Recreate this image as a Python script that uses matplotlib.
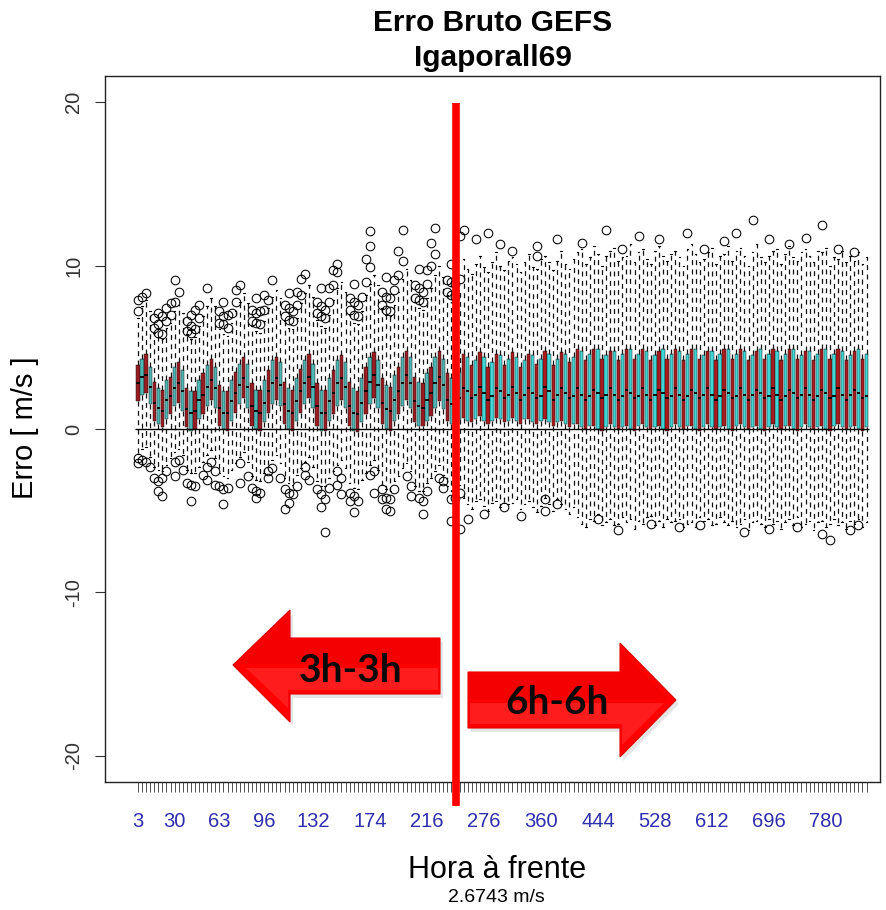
import matplotlib
matplotlib.use("Agg")
import matplotlib.pyplot as plt
from matplotlib.patches import Polygon
from matplotlib.lines import Line2D

# ---------------- data ----------------
hours = list(range(3, 241, 3)) + list(range(246, 841, 6))

medians = [
    2.8, 3.2, 3.3, 2.6, 1.6, 1.3, 1.1, 1.8,
    2.0, 2.5, 2.8, 2.3, 1.2, 1.0, 1.1, 1.8,
    2.1, 2.6, 3.0, 2.5, 1.3, 1.0, 1.0, 1.7,
    2.2, 2.7, 3.1, 2.6, 1.4, 1.1, 1.0, 1.6,
    2.3, 2.8, 3.1, 2.7, 1.5, 1.1, 1.0, 1.7,
    2.3, 2.8, 3.2, 2.6, 1.4, 1.0, 1.0, 1.7,
    2.2, 2.8, 3.1, 2.6, 1.4, 1.0, 0.9, 1.6,
    2.3, 2.9, 3.3, 2.7, 1.6, 1.2, 1.1, 1.8,
    2.3, 2.8, 3.3, 2.8, 1.7, 1.4, 1.3, 1.8,
    2.2, 2.8, 3.2, 2.7, 1.8, 1.5, 1.4, 1.9,
    2.5, 2.3, 1.9, 2.1, 2.6, 2.2, 1.8, 2.0, 2.5, 2.3, 1.9, 2.1,
    2.6, 2.2, 1.8, 2.1, 2.5, 2.2, 1.9, 2.0, 2.6, 2.3, 1.8, 2.1,
    2.5, 2.2, 1.9, 2.0, 2.5, 2.1, 1.8, 2.0, 2.4, 2.2, 1.9, 2.1,
    2.5, 2.1, 1.8, 2.0, 2.4, 2.2, 1.9, 2.0, 2.5, 2.1, 1.8, 2.1,
    2.4, 2.2, 1.9, 2.0, 2.5, 2.1, 1.8, 2.0, 2.4, 2.2, 1.9, 2.1,
    2.5, 2.1, 1.8, 2.0, 2.4, 2.2, 1.9, 2.0, 2.5, 2.1, 1.8, 2.1,
    2.4, 2.2, 1.9, 2.0, 2.5, 2.1, 1.8, 2.0, 2.4, 2.2, 1.9, 2.1,
    2.5, 2.1, 1.8, 2.0, 2.4, 2.2, 1.9, 2.0, 2.5, 2.1, 1.8, 2.1,
    2.4, 2.2, 1.9, 2.0,
]

q3 = [
    3.9, 4.3, 4.6, 3.8, 2.9, 2.5, 2.4, 3.0,
    3.2, 3.8, 4.1, 3.6, 2.5, 2.3, 2.3, 3.0,
    3.4, 3.9, 4.3, 3.8, 2.7, 2.3, 2.3, 3.0,
    3.5, 4.0, 4.4, 4.0, 2.8, 2.4, 2.4, 3.0,
    3.6, 4.2, 4.4, 4.1, 2.9, 2.5, 2.4, 3.1,
    3.7, 4.2, 4.6, 4.0, 2.8, 2.4, 2.4, 3.1,
    3.6, 4.2, 4.5, 4.1, 2.9, 2.5, 2.3, 3.1,
    3.8, 4.4, 4.7, 4.2, 3.1, 2.7, 2.6, 3.3,
    3.8, 4.4, 4.8, 4.4, 3.2, 2.9, 2.8, 3.4,
    3.8, 4.4, 4.8, 4.3, 3.4, 3.1, 3.0, 3.5,
    4.6, 4.4, 3.9, 4.2, 4.7, 4.4, 3.8, 4.1, 4.6, 4.5, 3.9, 4.3,
    4.7, 4.4, 3.8, 4.2, 4.6, 4.5, 4.0, 4.3, 4.8, 4.6, 3.9, 4.3,
    4.7, 4.6, 4.1, 4.4,
    4.9, 4.8, 4.2, 4.6, 4.9, 4.9, 4.3, 4.5, 4.8, 4.8, 4.2, 4.6,
    4.9, 4.9, 4.3, 4.6, 4.9, 4.8, 4.2, 4.5, 4.8, 4.9, 4.3, 4.6,
    4.9, 4.8, 4.2, 4.6, 4.9, 4.9, 4.3, 4.5, 4.8, 4.8, 4.2, 4.6,
    4.9, 4.9, 4.3, 4.6, 4.9, 4.8, 4.2, 4.5, 4.8, 4.9, 4.3, 4.6,
    4.9, 4.8, 4.2, 4.6, 4.9, 4.9, 4.3, 4.5, 4.8, 4.8, 4.2, 4.6,
    4.9, 4.9, 4.3, 4.6, 4.9, 4.8, 4.2, 4.5, 4.8, 4.9, 4.3, 4.6,
]

q1 = [
    1.7, 2.1, 2.2, 1.5, 0.5, 0.3, 0.1, 0.6,
    0.9, 1.4, 1.6, 1.1, 0.1, -0.1, 0.0, 0.6,
    0.9, 1.4, 1.8, 1.3, 0.2, 0.0, -0.1, 0.5,
    1.0, 1.5, 1.9, 1.3, 0.2, 0.0, -0.1, 0.4,
    1.0, 1.5, 1.8, 1.4, 0.3, 0.0, -0.1, 0.5,
    1.0, 1.5, 1.9, 1.3, 0.2, -0.1, -0.1, 0.5,
    0.9, 1.4, 1.8, 1.3, 0.2, -0.1, -0.2, 0.4,
    0.9, 1.5, 1.9, 1.3, 0.3, 0.0, -0.1, 0.5,
    0.9, 1.4, 1.8, 1.3, 0.4, 0.2, 0.2, 0.5,
    0.8, 1.3, 1.7, 1.2, 0.5, 0.3, 0.3, 0.6,
    0.7, 0.5, 0.4, 0.6, 0.8, 0.5, 0.3, 0.5, 0.7, 0.6, 0.4, 0.5,
    0.7, 0.5, 0.3, 0.6, 0.6, 0.4, 0.3, 0.5, 0.6, 0.4, 0.2, 0.4,
    0.5, 0.3, 0.1, 0.3,
    0.3, 0.1, 0.0, 0.2, 0.2, 0.0, -0.1, 0.1, 0.3, 0.1, 0.0, 0.1,
    0.2, 0.0, -0.1, 0.2, 0.3, 0.1, 0.0, 0.1, 0.2, 0.0, -0.1, 0.1,
    0.3, 0.1, 0.0, 0.2, 0.2, 0.0, -0.1, 0.1, 0.3, 0.1, 0.0, 0.1,
    0.2, 0.0, -0.1, 0.2, 0.3, 0.1, 0.0, 0.1, 0.2, 0.0, -0.1, 0.1,
    0.3, 0.1, 0.0, 0.2, 0.2, 0.0, -0.1, 0.1, 0.3, 0.1, 0.0, 0.1,
    0.2, 0.0, -0.1, 0.2, 0.3, 0.1, 0.0, 0.1, 0.2, 0.0, -0.1, 0.1,
]

whisker_high = [
    6.8, 7.5, 7.9, 7.2, 5.9, 5.6, 5.5, 6.2,
    6.5, 7.2, 7.6, 7.1, 5.8, 5.5, 5.6, 6.3,
    6.9, 7.5, 8.0, 7.5, 6.1, 5.8, 5.7, 6.5,
    7.2, 7.8, 8.3, 7.7, 6.3, 6.0, 5.9, 6.6,
    7.4, 8.1, 8.5, 8.0, 6.6, 6.2, 6.1, 6.8,
    7.7, 8.3, 8.8, 8.1, 6.7, 6.3, 6.2, 7.0,
    7.9, 8.6, 9.0, 8.4, 7.0, 6.5, 6.4, 7.2,
    8.2, 8.9, 9.4, 8.8, 7.4, 7.0, 6.9, 7.6,
    8.4, 9.2, 9.8, 9.1, 7.8, 7.4, 7.3, 8.0,
    8.6, 9.4, 10.0, 9.3, 8.2, 7.8, 7.7, 8.3,
    10.4, 9.8, 9.5, 10.1, 10.6, 9.9, 9.6, 10.2, 10.8, 10.0, 9.7, 10.3,
    10.5, 10.1, 9.6, 10.2, 10.7, 9.9, 9.8, 10.4, 10.6, 10.2, 9.7, 10.3,
    10.9, 10.1, 9.8, 10.4,
    10.8, 11.0, 10.1, 10.5, 11.2, 10.7, 10.0, 10.6, 10.9, 11.1, 10.3, 10.5,
    10.6, 11.3, 10.2, 10.8, 11.0, 10.4, 10.1, 10.9, 11.2, 10.6, 10.3, 10.7,
    10.9, 10.5, 10.0, 11.0, 11.3, 10.7, 10.2, 10.4, 10.8, 11.1, 10.1, 10.6,
    10.7, 11.2, 10.3, 10.9, 11.1, 10.6, 10.0, 10.8, 11.3, 10.5, 10.2, 10.6,
    10.9, 11.0, 10.1, 10.7, 11.2, 10.5, 10.3, 10.8, 11.0, 10.6, 10.2, 10.9,
    10.8, 11.1, 10.0, 10.5, 10.4, 10.9, 10.2, 10.6, 10.3, 10.8, 10.1, 10.5,
]

whisker_low = [
    -1.5, -1.2, -1.1, -1.7, -2.3, -2.5, -2.6, -2.2,
    -1.8, -1.4, -1.2, -1.6, -2.5, -2.7, -2.7, -2.3,
    -2.0, -1.6, -1.3, -1.8, -2.7, -2.9, -3.0, -2.5,
    -2.1, -1.7, -1.4, -2.0, -2.9, -3.1, -3.2, -2.7,
    -2.3, -1.9, -1.6, -2.1, -3.0, -3.3, -3.4, -2.8,
    -2.4, -2.0, -1.7, -2.3, -3.2, -3.5, -3.5, -3.0,
    -2.6, -2.2, -1.9, -2.4, -3.3, -3.6, -3.7, -3.1,
    -2.7, -2.2, -1.9, -2.5, -3.4, -3.7, -3.8, -3.2,
    -2.9, -2.4, -2.1, -2.6, -3.5, -3.8, -3.8, -3.3,
    -3.0, -2.6, -2.2, -2.8, -3.5, -3.8, -3.8, -3.4,
    -4.2, -4.6, -4.9, -4.4, -4.3, -4.7, -5.0, -4.5, -4.4, -4.8, -4.5, -4.6,
    -4.5, -4.3, -4.9, -4.6, -4.4, -4.8, -5.1, -4.7, -4.2, -4.6, -5.0, -4.3,
    -4.6, -4.9, -5.2, -4.8,
    -5.4, -5.8, -6.0, -5.5, -5.6, -5.2, -5.9, -5.7, -5.5, -5.9, -5.8, -5.4,
    -5.7, -5.5, -6.1, -5.6, -5.8, -5.4, -5.3, -5.9, -5.6, -6.0, -5.5, -5.7,
    -5.6, -5.5, -6.0, -5.8, -5.7, -6.0, -5.4, -5.6, -5.5, -5.9, -5.8, -5.4,
    -5.7, -5.9, -5.6, -6.0, -5.8, -5.5, -6.2, -5.7, -5.6, -5.8, -6.0, -5.5,
    -5.8, -5.6, -6.1, -5.7, -5.5, -5.9, -5.4, -6.0, -5.8, -5.6, -6.2, -5.7,
    -5.6, -6.0, -5.8, -5.5, -5.9, -5.7, -6.1, -5.6, -5.8, -5.5, -6.0, -5.7,
]

outlier_hours = [
    3, 3, 6, 9, 15, 15, 18, 18, 18, 21, 21, 24, 24, 27, 27, 30, 30, 33,
    39, 39, 42, 42, 42, 45, 45, 48, 48, 54, 63, 63, 66, 66, 66, 69, 69, 72,
    75, 75, 78, 87, 87, 90, 90, 90, 93, 93, 96, 96, 99, 102, 111, 111,
    114, 114, 114, 117, 117, 120, 120, 123, 123, 126, 135, 135, 138, 138,
    138, 141, 141, 144, 144, 147, 147, 150, 150, 159, 159, 162, 162, 162,
    165, 165, 168, 171, 171, 174, 174, 174, 183, 183, 186, 186, 186, 189,
    189, 192, 192, 195, 195, 198, 198, 207, 207, 210, 210, 210, 213, 213,
    216, 216, 219, 219, 222, 222, 231, 231, 234, 234, 234, 237, 237, 240, 240,
    3, 3, 6, 9, 12, 15, 18, 18, 21, 21, 24, 30, 30, 33, 36, 39, 42, 42, 45,
    51, 54, 54, 57, 60, 60, 63, 66, 66, 69, 78, 78, 84, 87, 90, 90, 93, 99,
    99, 102, 108, 111, 111, 114, 114, 117, 120, 126, 126, 129, 135, 138, 138,
    141, 141, 144, 150, 150, 153, 153, 159, 159, 162, 162, 165, 174, 177, 177,
    183, 183, 186, 186, 189, 189, 192, 201, 204, 204, 210, 213, 213, 216, 225,
    228, 228, 234, 234, 237, 240, 240,
    246, 264, 282, 300, 318, 354, 354, 384, 420, 456, 480, 504, 534, 576,
    600, 630, 648, 672, 696, 726, 750, 774, 798, 822,
    252, 276, 306, 330, 366, 366, 384, 444, 474, 522, 564, 594, 660, 696,
    738, 774, 786, 816, 828,
]

outlier_values = [
    7.2, 7.9, 8.1, 8.3, 6.2, 6.8, 5.9, 6.4, 7.1, 5.8, 6.9, 6.6, 7.4, 7.0, 7.7, 7.8, 9.1, 8.4,
    6.0, 6.6, 5.9, 6.3, 7.0, 6.1, 7.3, 6.8, 7.6, 8.6, 6.5, 7.2, 6.4, 6.9, 7.8, 6.2, 7.0, 7.1,
    7.8, 8.5, 8.8, 6.6, 7.3, 6.5, 7.1, 8.0, 6.4, 7.2, 7.3, 8.2, 7.9, 9.1, 6.9, 7.6,
    6.7, 7.4, 8.3, 6.6, 7.2, 7.6, 8.4, 8.2, 9.2, 9.5, 7.1, 7.8, 6.9, 7.5,
    8.6, 6.8, 7.3, 7.8, 8.6, 8.8, 9.7, 9.6, 10.1, 7.3, 8.0, 7.0, 7.8, 8.9,
    6.9, 7.6, 8.1, 9.0, 10.4, 9.9, 11.2, 12.1, 7.6, 8.4, 7.3, 8.1, 9.3, 7.2,
    8.0, 8.5, 9.1, 9.4, 10.9, 10.3, 12.2, 8.0, 8.8, 7.9, 8.6, 9.8, 7.8, 8.4,
    8.9, 9.7, 10.0, 11.4, 10.7, 12.3, 8.4, 9.1, 8.2, 9.0, 10.1, 8.1, 8.9, 9.2, 11.8,
    -1.8, -2.1, -1.9, -2.0, -2.3, -3.0, -3.2, -3.8, -3.0, -4.1, -2.6, -2.0, -2.9, -1.9, -2.5, -3.3, -3.4, -4.4, -3.5,
    -2.8, -2.3, -3.1, -2.0, -2.6, -3.4, -3.5, -3.7, -4.6, -3.6, -2.1, -3.3, -2.9, -3.6, -3.8, -4.2, -3.9, -2.6,
    -3.0, -2.4, -3.0, -3.7, -4.9, -3.9, -4.5, -4.0, -3.5, -2.3, -2.8, -3.1, -3.7, -4.0, -4.8,
    -4.3, -6.3, -3.6, -2.6, -3.4, -3.0, -4.0, -3.9, -4.4, -4.1, -5.1, -4.4, -2.8, -2.6, -3.9,
    -3.7, -4.3, -4.2, -4.9, -4.3, -5.0, -3.7, -2.9, -3.5, -4.1, -4.2, -4.4, -5.2, -3.8, -3.0,
    -3.2, -3.6, -4.3, -5.6, -4.2, -3.9, -6.1,
    12.2, 11.6, 12.0, 11.3, 10.9, 10.6, 11.2, 11.6, 11.4, 12.2, 11.0, 11.8, 11.6, 12.0,
    11.0, 11.5, 12.0, 12.8, 11.6, 11.3, 11.7, 12.5, 11.0, 10.8,
    -5.5, -5.2, -4.8, -5.3, -4.3, -5.0, -4.6, -5.5, -6.2, -5.8, -6.0, -5.9, -6.3, -6.1,
    -6.0, -6.4, -6.8, -6.2, -5.9,
]

label_hours = [3, 30, 63, 96, 132, 174, 216, 276, 360, 444, 528, 612, 696, 780]
y_ticks = [-20, -10, 0, 10, 20]
title_lines = ["Erro Bruto GEFS", "Igaporall69"]
x_label = "Hora à frente"
sub_label = "2.6743 m/s"
y_label = "Erro [ m/s ]"
left_arrow_text = "3h-3h"
right_arrow_text = "6h-6h"
split_hour = 240

n = len(hours)
for name, arr in [("medians", medians), ("q1", q1), ("q3", q3),
                  ("whisker_low", whisker_low), ("whisker_high", whisker_high)]:
    if len(arr) != n:
        print("length mismatch", name, len(arr), n)
if len(outlier_hours) != len(outlier_values):
    print("outlier mismatch", len(outlier_hours), len(outlier_values))

# ---------------- figure ----------------
W, H = 886, 910
fig = plt.figure(figsize=(W / 100, H / 100), dpi=100)
fig.patch.set_facecolor("white")

def fx(x):
    return x / W

def fy(y):
    return 1 - y / H

ax_l, ax_r, ax_t, ax_b = 105, 880, 76, 782
ax = fig.add_axes([fx(ax_l), fy(ax_b), (ax_r - ax_l) / W, (ax_b - ax_t) / H])

positions = list(range(n))
stats = []
for i, h in enumerate(hours):
    fl = [v for hh, v in zip(outlier_hours, outlier_values) if hh == h]
    stats.append(dict(med=medians[i], q1=q1[i], q3=q3[i],
                      whislo=whisker_low[i], whishi=whisker_high[i], fliers=fl))

res = ax.bxp(stats, positions=positions, widths=0.8, capwidths=0.4,
             patch_artist=True, manage_ticks=False,
             boxprops=dict(edgecolor="#1a1a1a", linewidth=0.35),
             whiskerprops=dict(color="#111111", linewidth=0.9, linestyle=(0, (4, 3.5))),
             capprops=dict(color="black", linewidth=0.8),
             medianprops=dict(color="black", linewidth=1.3),
             flierprops=dict(marker="o", markerfacecolor="none",
                             markeredgecolor="black", markersize=6.2,
                             markeredgewidth=0.75))

for i, box in enumerate(res["boxes"]):
    early = hours[i] <= split_hour
    if i % 2 == 0:
        box.set_facecolor("#9a1c22" if early else "#ab1a1c")
    else:
        box.set_facecolor("#4fb6b6" if early else "#40d6d6")

ax.hlines(0, -0.7, n - 0.3, color="black", linewidth=1.0, zorder=4)

ax.set_xlim(-8.1, 182.3)
ax.set_ylim(-21.6, 21.6)

ax.set_xticks(positions)
ax.set_xticklabels([str(h) if h in label_hours else "" for h in hours],
                   fontfamily="Liberation Sans", fontsize=14.5, color="#2e2eae")
ax.tick_params(axis="x", length=7.5, width=0.6, color="#333333", pad=14)

ax.set_yticks(y_ticks)
ax.set_yticklabels([str(t) for t in y_ticks], fontfamily="Liberation Sans",
                   fontsize=14.5, color="#333333", rotation=90, va="center")
ax.tick_params(axis="y", length=7.5, width=0.8, color="#333333", pad=8)

for sp in ax.spines.values():
    sp.set_linewidth(1.0)
    sp.set_color("#222222")

# titles and labels
cx = 0.5 * (fx(ax_l) + fx(ax_r))
fig.text(cx, fy(23), title_lines[0], ha="center", va="center",
         fontfamily="Liberation Sans", fontweight="bold", fontsize=21.5)
fig.text(cx, fy(58), title_lines[1], ha="center", va="center",
         fontfamily="Liberation Sans", fontweight="bold", fontsize=21.5)
fig.text(fx(497), fy(870), x_label, ha="center", va="center",
         fontfamily="Liberation Sans", fontsize=22)
fig.text(fx(496), fy(898), sub_label, ha="center", va="center",
         fontfamily="Liberation Sans", fontsize=14)
fig.text(fx(25), fy(428), y_label, ha="center", va="center", rotation=90,
         fontfamily="Liberation Sans", fontsize=21)

# red separator line
fig.add_artist(Line2D([fx(456), fx(456)], [fy(103), fy(806)], color="#ff0000",
                      linewidth=5.5, solid_capstyle="butt", zorder=10))

# arrows
def arrow(pts, shade_pts, light_pts, zo=11):
    shadow = [(fx(x + 3), fy(y + 4)) for x, y in pts]
    fig.add_artist(Polygon(shadow, closed=True, facecolor="#000000", alpha=0.10,
                           edgecolor="none", zorder=zo))
    fig.add_artist(Polygon([(fx(x), fy(y)) for x, y in pts], closed=True,
                           facecolor="#ff0000", edgecolor="#dd0000", linewidth=0.8,
                           zorder=zo + 1))
    fig.add_artist(Polygon([(fx(x), fy(y)) for x, y in shade_pts], closed=True,
                           facecolor="#f40000", edgecolor="none", zorder=zo + 2))
    fig.add_artist(Polygon([(fx(x), fy(y)) for x, y in light_pts], closed=True,
                           facecolor="#ff1c1c", edgecolor="none", zorder=zo + 2))

arrow([(233, 665), (290, 610), (290, 638), (440, 638), (440, 694), (290, 694), (290, 722)],
      [(240, 665), (288, 618), (288, 640), (438, 640), (438, 664), (240, 664)],
      [(246, 668), (438, 668), (438, 690), (288, 690), (288, 708)])
arrow([(676, 700), (620, 643), (620, 672), (468, 672), (468, 728), (620, 728), (620, 757)],
      [(669, 700), (622, 651), (622, 674), (470, 674), (470, 699), (669, 699)],
      [(470, 703), (664, 703), (622, 745), (622, 724), (470, 724)])

fig.text(fx(350), fy(670), left_arrow_text, ha="center", va="center",
         fontfamily="Lato", fontweight="bold", fontsize=28, color="#0a0a0a", zorder=20)
fig.text(fx(557), fy(703), right_arrow_text, ha="center", va="center",
         fontfamily="Lato", fontweight="bold", fontsize=28, color="#0a0a0a", zorder=20)

fig.savefig("out.png", dpi=100, facecolor="white")
